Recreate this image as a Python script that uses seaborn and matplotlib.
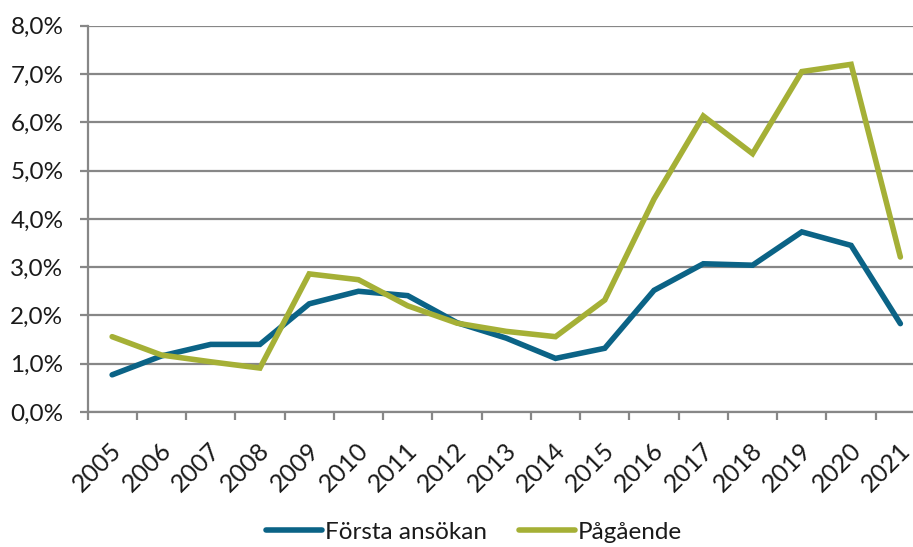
import matplotlib
matplotlib.use("Agg")
import matplotlib.pyplot as plt
import matplotlib.transforms as mtransforms
import seaborn as sns
import pandas as pd
import numpy as np
from matplotlib.ticker import FuncFormatter, FixedLocator

years = [str(y) for y in range(2005, 2022)]
forsta = [0.77, 1.16, 1.40, 1.40, 2.24, 2.50, 2.41, 1.85, 1.53, 1.11, 1.32, 2.52, 3.07, 3.04, 3.73, 3.45, 1.83]
pagaende = [1.56, 1.18, 1.04, 0.91, 2.86, 2.74, 2.20, 1.84, 1.67, 1.56, 2.32, 4.41, 6.13, 5.35, 7.05, 7.20, 3.21]
series_names = ["Första ansökan", "Pågående"]
colors = ["#0b6386", "#a5b036"]

sns.set_theme(style="white")
plt.rcParams['font.family'] = ['Lato', 'DejaVu Sans']

df = pd.DataFrame({
    "year": list(range(len(years))) * 2,
    "value": forsta + pagaende,
    "series": [series_names[0]] * len(years) + [series_names[1]] * len(years),
})

fig = plt.figure(figsize=(9.13, 5.47), dpi=100)
ax = fig.add_axes([87.5/913, (547-412)/547, (925-87.5)/913, (412-25.7)/547])

sns.lineplot(data=df, x="year", y="value", hue="series", palette=colors,
             linewidth=4.0, ax=ax, legend=True, solid_capstyle="round", solid_joinstyle="miter")

ax.set_xlim(-0.5, len(years) - 0.5)
ax.set_ylim(0, 8)
ax.set_yticks(np.arange(0, 9, 1))
ax.yaxis.set_major_formatter(FuncFormatter(lambda v, p: f"{v:.1f}%".replace(".", ",")))
ax.grid(axis="y", color="#878787", linewidth=1.6)
ax.set_axisbelow(True)

ax.set_xticks(range(len(years)))
ax.set_xticklabels(years, rotation=45, ha="right", va="center", rotation_mode="anchor",
                   fontsize=18, color="#1a1a1a")
ax.tick_params(axis="x", which="major", length=0, pad=25)
offset = mtransforms.ScaledTranslation(6/100, 0, fig.dpi_scale_trans)
for lbl in ax.get_xticklabels():
    lbl.set_transform(lbl.get_transform() + offset)
ax.xaxis.set_minor_locator(FixedLocator(np.arange(-0.5, len(years), 1)))
ax.tick_params(axis="x", which="minor", length=5.8, width=1.6, color="#878787", direction="out", bottom=True)
ax.tick_params(axis="y", length=5.8, width=1.6, color="#878787", direction="out", left=True,
               labelsize=17.5, labelcolor="#1a1a1a", pad=11.5)

for s in ["top", "right"]:
    ax.spines[s].set_visible(False)
for s in ["left", "bottom"]:
    ax.spines[s].set_color("#878787")
    ax.spines[s].set_linewidth(1.6)

ax.set_xlabel("")
ax.set_ylabel("")

handles, labels = ax.get_legend_handles_labels()
ax.get_legend().remove()
leg = fig.legend(handles, labels, loc="center", bbox_to_anchor=(474/913, 1 - 532/547),
                 ncol=2, frameon=False, fontsize=17.5, handlelength=2.3, handletextpad=0.12,
                 columnspacing=1.3)
for t in leg.get_texts():
    t.set_color("#1a1a1a")

fig.savefig("out.png", dpi=100)
